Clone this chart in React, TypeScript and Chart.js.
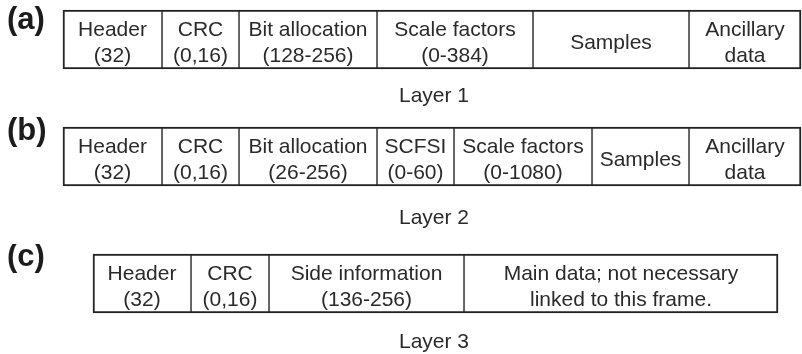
import React, { useEffect, useRef } from 'react';
import { Chart, registerables } from 'chart.js';

Chart.register(...registerables);

// ---- Data ----
const layer1Fields: string[][] = [
  ['Header', '(32)'],
  ['CRC', '(0,16)'],
  ['Bit allocation', '(128-256)'],
  ['Scale factors', '(0-384)'],
  ['Samples'],
  ['Ancillary', 'data'],
];
const layer1Widths = [99, 77, 138, 156, 156, 112];

const layer2Fields: string[][] = [
  ['Header', '(32)'],
  ['CRC', '(0,16)'],
  ['Bit allocation', '(26-256)'],
  ['SCFSI', '(0-60)'],
  ['Scale factors', '(0-1080)'],
  ['Samples'],
  ['Ancillary', 'data'],
];
const layer2Widths = [99, 77, 138, 77, 138, 97, 112];

const layer3Fields: string[][] = [
  ['Header', '(32)'],
  ['CRC', '(0,16)'],
  ['Side information', '(136-256)'],
  ['Main data; not necessary', 'linked to this frame.'],
];
const layer3Widths = [98, 78, 195, 314];

const panelTags = ['(a)', '(b)', '(c)'];
const panelCaptions = ['Layer 1', 'Layer 2', 'Layer 3'];

const FONT = '"Liberation Sans", Arial, Helvetica, sans-serif';

type PanelProps = {
  fields: string[][];
  widths: number[];
  tag: string;
  caption: string;
  top: number;
  height: number;
  padLeft: number;
  padRight: number;
  tagBaseline: number;
  captionBaseline: number;
};

function Panel(props: PanelProps) {
  const ref = useRef<HTMLCanvasElement | null>(null);
  useEffect(() => {
    const { fields, widths, tag, caption, height, padLeft, padRight, tagBaseline, captionBaseline } = props;
    const canvas = ref.current;
    if (!canvas) return;
    const total = widths.reduce((a, b) => a + b, 0);
    const last = widths.length - 1;
    const textPlugin = {
      id: 'frameText',
      afterDatasetsDraw(chart: any) {
        const ctx = chart.ctx;
        ctx.save();
        ctx.fillStyle = '#2a2a2a';
        ctx.font = `21px ${FONT}`;
        ctx.textAlign = 'center';
        ctx.textBaseline = 'alphabetic';
        chart.data.datasets.forEach((_ds: any, i: number) => {
          const el = chart.getDatasetMeta(i).data[0];
          const cx = (el.x + el.base) / 2;
          const cy = el.y;
          const lines = fields[i];
          const n = lines.length;
          lines.forEach((t, j) => {
            ctx.fillText(t, cx, cy + 9.5 + (j - (n - 1) / 2) * 25.5);
          });
        });
        ctx.textAlign = 'left';
        ctx.fillStyle = '#1c1c1c';
        ctx.font = `bold 31px ${FONT}`;
        ctx.fillText(tag, 7, tagBaseline);
        ctx.textAlign = 'center';
        ctx.fillStyle = '#2a2a2a';
        ctx.font = `21px ${FONT}`;
        ctx.fillText(caption, 434, captionBaseline);
        ctx.restore();
      },
    };
    const chart = new Chart(canvas, {
      type: 'bar',
      data: {
        labels: ['frame'],
        datasets: widths.map((w, i) => ({
          label: fields[i].join(' '),
          data: [w],
          backgroundColor: '#ffffff',
          borderColor: '#222222',
          borderWidth: { top: 2, bottom: 2, left: i === 0 ? 2 : 1, right: i === last ? 2 : 1 },
          borderSkipped: false,
          barPercentage: 1,
          categoryPercentage: 1,
          clip: false,
        })) as any,
      },
      options: {
        indexAxis: 'y',
        responsive: false,
        animation: false,
        devicePixelRatio: 1,
        layout: { padding: { left: padLeft, right: padRight, top: 10, bottom: height - 69 } },
        scales: {
          x: { type: 'linear', stacked: true, min: 0, max: total, display: false },
          y: { stacked: true, display: false },
        },
        plugins: { legend: { display: false }, tooltip: { enabled: false } },
      } as any,
      plugins: [textPlugin],
    });
    return () => chart.destroy();
  }, []);
  return (
    <div style={{ position: 'absolute', left: 0, top: props.top, width: 802, height: props.height }}>
      <canvas ref={ref} width={802} height={props.height} style={{ display: 'block' }} />
    </div>
  );
}

export default function App() {
  return (
    <div style={{ position: 'absolute', left: 0, top: 0, width: 802, height: 354, background: '#fff', overflow: 'hidden' }}>
      <Panel fields={layer1Fields} widths={layer1Widths} tag={panelTags[0]} caption={panelCaptions[0]}
        top={0} height={117} padLeft={63} padRight={1} tagBaseline={29} captionBaseline={102} />
      <Panel fields={layer2Fields} widths={layer2Widths} tag={panelTags[1]} caption={panelCaptions[1]}
        top={117} height={127} padLeft={63} padRight={1} tagBaseline={23} captionBaseline={107} />
      <Panel fields={layer3Fields} widths={layer3Widths} tag={panelTags[2]} caption={panelCaptions[2]}
        top={244} height={110} padLeft={93} padRight={24} tagBaseline={22} captionBaseline={104} />
    </div>
  );
}
